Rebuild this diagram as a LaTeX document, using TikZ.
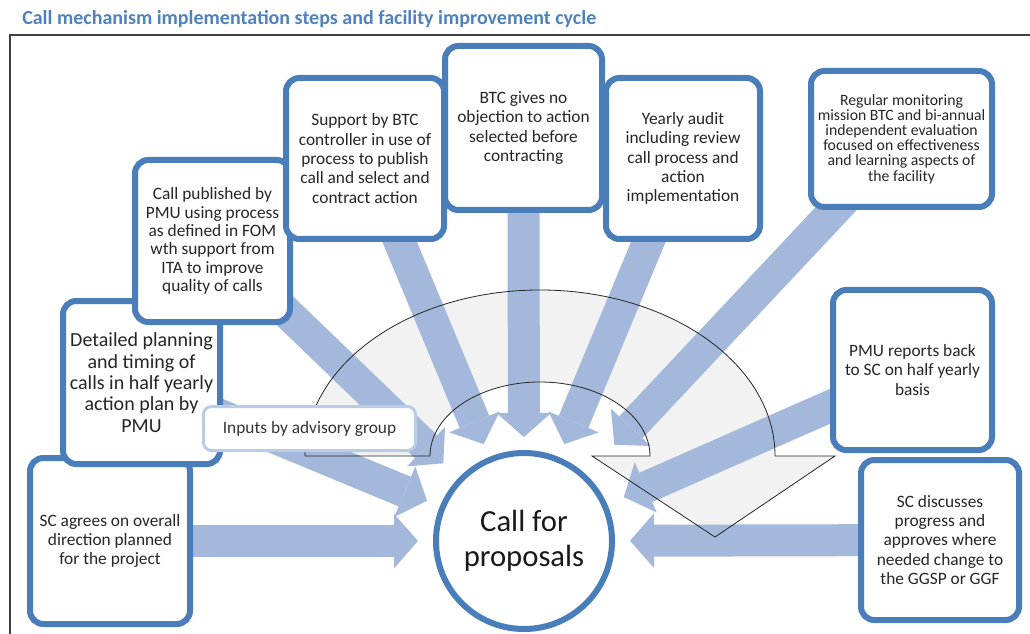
\documentclass[tikz,border=0pt]{standalone}
\usepackage{fontspec}
\setmainfont{Carlito}
\usetikzlibrary{arrows.meta}
\definecolor{boxblue}{HTML}{4A7EBB}
\definecolor{flowblue}{HTML}{A3B8DA}
\definecolor{titleblue}{HTML}{4F81BD}
\definecolor{inputblue}{HTML}{B9CDE5}
\definecolor{bandgray}{HTML}{F2F2F2}
\pgfdeclarelayer{back}
\pgfdeclarelayer{flow}
\pgfdeclarelayer{band}
\pgfsetlayers{back,flow,band,main}
\newcommand{\cyclepath}{(305,456) arc[start angle=180,end angle=360,x radius=235,y radius=166]
  -- (835,456) -- (715,537) -- (592,456) -- (650,456)
  arc[start angle=360,end angle=180,x radius=110,y radius=74] -- cycle}
\begin{document}
\begin{tikzpicture}[x=0.75pt,y=-0.75pt,
    box/.style = {draw=boxblue,line width=4.5pt,fill=white,rounded corners=10pt,
                  align=center,inner sep=0pt,text=black!85,
                  font=\fontsize{13}{14.5}\selectfont},
    flowarrow/.style = {draw=flowblue,line width=24pt,
                        -{Triangle[width=41pt,length=18pt,line width=0pt]}}]
    \useasboundingbox (0,0) rectangle (1030,634);
    \node[anchor=base west,inner sep=0pt,text=titleblue,
          font=\fontsize{15}{17}\selectfont\bfseries] (title) at (22,25)
          {Call mechanism implementation steps and facility improvement cycle};
    \draw[black!75,line width=0.9pt] (10,634) -- (10,35) -- (1030,35);

    \node[box,minimum width=120pt,minimum height=124.5pt] (scagree) at (110,541)
        {SC agrees on overall\\direction planned\\for the project};
    \node[box,minimum width=117.75pt,minimum height=122.25pt,
          font=\fontsize{15}{16}\selectfont] (detplan) at (141.5,382.5)
        {Detailed planning\\and timing of\\calls in half yearly\\action plan by\\PMU};
    \node[box,minimum width=116.25pt,minimum height=121.5pt,
          font=\fontsize{13}{13.7}\selectfont] (callpub) at (212.5,241)
        {Call published by\\PMU using process\\as defined in FOM\\wth support from\\ITA to improve\\quality of calls};
    \node[box,minimum width=118.5pt,minimum height=120.75pt] (support) at (365,158.5)
        {Support by BTC\\controller in use of\\process to publish\\call and select and\\contract action};
    \node[box,minimum width=115.5pt,minimum height=120.75pt] (audit) at (683,158.5)
        {Yearly audit\\including review\\call process and\\action\\implementation};
    \node[box,minimum width=117.75pt,minimum height=123pt] (btcobj) at (523.5,128)
        {BTC gives no\\objection to action\\selected before\\contracting};
    \node[box,minimum width=135.75pt,minimum height=102pt,
          font=\fontsize{11.8}{11.4}\selectfont] (monitor) at (901.5,139)
        {Regular monitoring\\mission BTC and bi-annual\\independent evaluation\\focused on effectiveness\\and learning aspects of\\the facility};
    \node[box,minimum width=119.25pt,minimum height=120pt] (pmurep) at (912.5,370)
        {PMU reports back\\to SC on half yearly\\basis};
    \node[box,minimum width=118.5pt,minimum height=120pt] (scdisc) at (940,540)
        {SC discusses\\progress and\\approves where\\needed change to\\the GGSP or GGF};
    \node[draw=inputblue,line width=2.25pt,fill=white,rounded corners=6pt,
          minimum width=159pt,minimum height=33pt,inner sep=0pt,text=black!80,
          font=\fontsize{13}{15}\selectfont] (inputs) at (309.5,428.5)
        {Inputs by advisory group};
    \node[circle,draw=boxblue,line width=4.5pt,fill=white,minimum size=132pt,
          inner sep=0pt,align=center,text=black!90,
          font=\fontsize{23}{26}\selectfont] (cfp) at (524,541)
        {Call for\\proposals};

    \begin{pgfonlayer}{back}
        \fill[bandgray] \cyclepath;
    \end{pgfonlayer}
    \begin{pgfonlayer}{flow}
        \draw[flowarrow,shorten >=11.25pt] (scagree.center) -- (cfp);
        \draw[flowarrow,shorten >=10.5pt] (detplan.center) -- (cfp);
        \draw[flowarrow,shorten >=15.75pt] (callpub.center) -- (cfp);
        \draw[flowarrow,shorten >=10.5pt] (support.center) -- (cfp);
        \draw[flowarrow,shorten >=9.75pt] (btcobj.center) -- (cfp);
        \draw[flowarrow,shorten >=10.5pt] (audit.center) -- (cfp);
        \draw[flowarrow,shorten >=30.75pt] (monitor.center) -- (cfp);
        \draw[flowarrow,shorten >=13.5pt] (pmurep.center) -- (cfp);
        \draw[flowarrow,shorten >=11.25pt] (scdisc.center) -- (cfp);
    \end{pgfonlayer}
    \begin{pgfonlayer}{band}
        \draw[black!85,line width=0.6pt] \cyclepath;
    \end{pgfonlayer}
\end{tikzpicture}
\end{document}
